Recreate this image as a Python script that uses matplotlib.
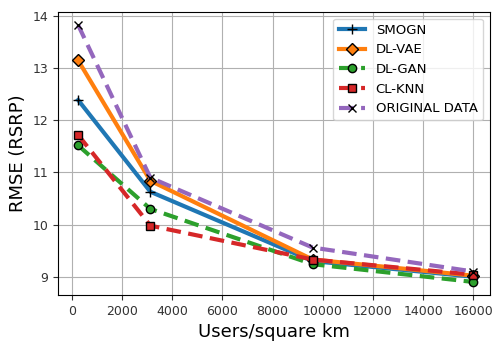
import matplotlib
matplotlib.use("Agg")
from matplotlib import pyplot as plt

density = [250, 3130, 9600, 16000]
smogn = [12.39, 10.63, 9.30, 9.00]
dl_vae = [13.15, 10.84, 9.33, 9.02]
dl_gan = [11.52, 10.30, 9.24, 8.90]
cl_knn = [11.72, 9.98, 9.33, 9.04]
original = [13.83, 10.90, 9.56, 9.10]

fig, ax = plt.subplots(figsize=(4.92, 3.41), dpi=100)

dash = (3.5, 1.8)
ax.plot(density, smogn, color="tab:blue", lw=3, marker="+", ms=7, mec="black", label="SMOGN")
ax.plot(density, dl_vae, color="tab:orange", lw=3, marker="D", ms=6, mec="black", label="DL-VAE")
ax.plot(density, dl_gan, color="tab:green", lw=3, dashes=dash, marker="o", ms=6, mec="black", label="DL-GAN")
ax.plot(density, cl_knn, color="tab:red", lw=3, dashes=dash, marker="s", ms=6, mec="black", label="CL-KNN")
ax.plot(density, original, color="tab:purple", lw=3, dashes=dash, marker="x", ms=6, mec="black", label="ORIGINAL DATA")

ax.set_xlim(-550, 16650)
ax.set_ylim(8.65, 14.08)
ax.set_xticks(range(0, 16001, 2000))
ax.grid(True)
ax.tick_params(labelsize=9, colors="#333333")
ax.set_xlabel("Users/square km", fontsize=13)
ax.set_ylabel("RMSE (RSRP)", fontsize=13)
ax.legend(fontsize=9.5, loc="upper right")

fig.subplots_adjust(left=0.118, right=0.995, top=0.965, bottom=0.135)
fig.savefig("out.png")
